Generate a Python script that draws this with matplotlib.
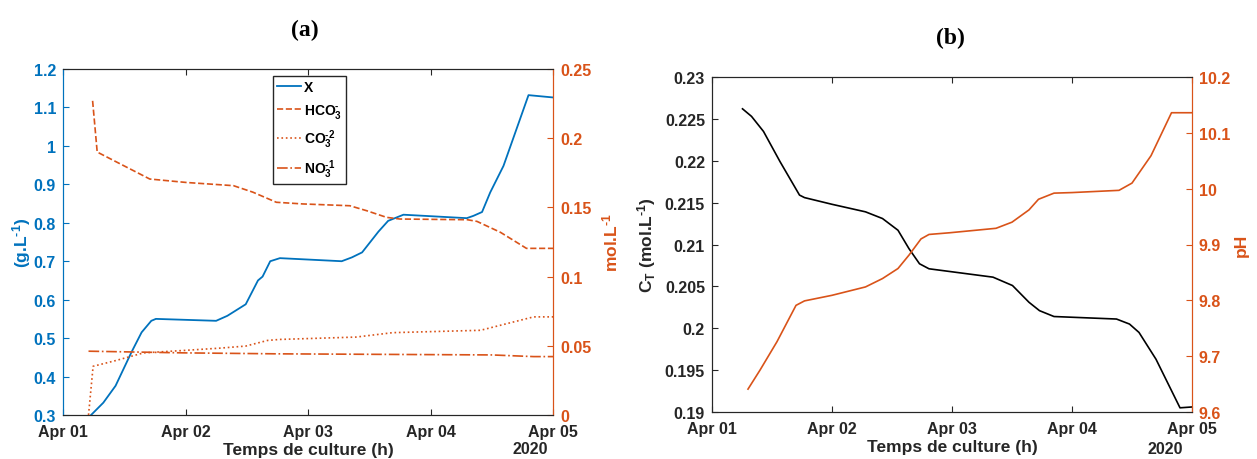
import numpy as np
import matplotlib
matplotlib.use('Agg')
import matplotlib.pyplot as plt
import matplotlib.dates as mdates
from matplotlib.ticker import FuncFormatter

# Fonts: bold sans everywhere, like the MATLAB export
plt.rcParams['font.family'] = ['Liberation Sans', 'DejaVu Sans']
plt.rcParams['font.weight'] = 'bold'
plt.rcParams['axes.labelweight'] = 'bold'
plt.rcParams['mathtext.fontset'] = 'custom'
plt.rcParams['mathtext.rm'] = 'Liberation Sans:bold'
plt.rcParams['mathtext.it'] = 'Liberation Sans:bold'
plt.rcParams['mathtext.bf'] = 'Liberation Sans:bold'
plt.rcParams['mathtext.default'] = 'bf'

blue = '#0072BD'
orange = '#D95319'
dark = '#262626'

# ---- data (hours since 2020-04-01 00:00) ----
# (a) biomass X (g/L)
x_hours = [5.5, 7.9, 10.3, 13.4, 15.4, 17.3, 18.2, 30.0, 32.2, 35.8, 38.2, 39.1,
           40.6, 42.5, 54.6, 56.6, 58.6, 61.8, 63.7, 66.7, 79.1, 80.4, 82.1, 83.7,
           86.3, 91.2, 96.0]
x_vals = [0.300, 0.332, 0.376, 0.463, 0.515, 0.545, 0.550, 0.545, 0.558, 0.588, 0.650, 0.660,
          0.700, 0.708, 0.700, 0.710, 0.723, 0.777, 0.805, 0.821, 0.812, 0.818, 0.828, 0.879,
          0.948, 1.132, 1.126]

# (a) HCO3- (mol/L)
hco3_hours = [5.8, 6.7, 10.6, 17.0, 24.2, 33.4, 37.2, 41.8, 47.0, 56.2, 59.5, 63.4,
              66.0, 79.2, 81.1, 85.7, 90.8, 96.0]
hco3_vals = [0.227, 0.190, 0.1826, 0.1705, 0.168, 0.1657, 0.161, 0.1537, 0.1525, 0.1512, 0.1476, 0.1428,
             0.1416, 0.1411, 0.1399, 0.132, 0.1204, 0.1204]

# (a) CO3-2 (mol/L)
co3_hours = [5.0, 5.9, 10.3, 15.8, 23.5, 30.7, 35.8, 40.1, 42.5, 57.4, 64.6, 81.8, 92.2, 96.0]
co3_vals = [0.0, 0.0352, 0.0393, 0.0449, 0.0466, 0.0483, 0.0498, 0.0539, 0.0546, 0.0563,
            0.0595, 0.0612, 0.0709, 0.0709]

# (a) NO3-1 (mol/L)
no3_hours = [5.0, 23.5, 41.8, 84.0, 92.2, 96.0]
no3_vals = [0.0461, 0.0449, 0.0442, 0.0434, 0.0422, 0.0422]

# (b) total carbon CT (mol/L)
ct_hours = [6.1, 7.9, 10.3, 13.6, 17.5, 18.5, 24.0, 30.7, 34.1, 37.2, 39.4, 41.5,
            43.4, 56.2, 60.1, 63.4, 65.5, 68.4, 80.9, 83.5, 85.4, 88.8, 93.6, 96.0]
ct_vals = [0.2262, 0.2253, 0.2235, 0.2199, 0.2159, 0.2156, 0.2148, 0.2139, 0.2131, 0.2117, 0.2095, 0.2077,
           0.2071, 0.2061, 0.2051, 0.2031, 0.2021, 0.2014, 0.2011, 0.2005, 0.1995, 0.1963, 0.1905, 0.1906]

# (b) pH
ph_hours = [7.2, 9.6, 13.0, 16.8, 18.5, 24.0, 30.7, 34.1, 37.2, 39.4, 41.8, 43.4,
            47.5, 56.8, 60.0, 63.4, 65.3, 68.4, 72.0, 81.4, 84.0, 87.8, 91.9, 96.0]
ph_vals = [9.641, 9.675, 9.726, 9.791, 9.799, 9.809, 9.824, 9.839, 9.857, 9.881, 9.910, 9.918,
           9.921, 9.929, 9.940, 9.962, 9.981, 9.992, 9.993, 9.997, 10.010, 10.059, 10.136, 10.136]

t0 = np.datetime64('2020-04-01T00:00')


def to_time(hours):
    return t0 + (np.array(hours) * 3600).astype('timedelta64[s]')


def fmt(v, pos):
    return '%g' % round(v, 4)


def style_xaxis(ax):
    ax.set_xlim(t0, t0 + np.timedelta64(96, 'h'))
    ax.xaxis.set_major_locator(mdates.DayLocator())
    ax.xaxis.set_major_formatter(mdates.DateFormatter('%b %d'))
    ax.tick_params(axis='x', direction='in', top=True, length=4, colors=dark,
                   labelsize=11.5, pad=6.5)
    ax.set_xlabel('Temps de culture (h)', fontsize=12.5, color=dark, labelpad=2)
    for s in ['top', 'bottom']:
        ax.spines[s].set_color(dark)


W, H = 1257, 460
fig = plt.figure(figsize=(W / 100, H / 100), dpi=100)

# ---------------- (a) ----------------
ax1 = fig.add_axes([63 / W, 1 - 416 / H, 490 / W, 346 / H])
ax1r = ax1.twinx()

l1, = ax1.plot(to_time(x_hours), x_vals, color=blue, lw=1.3, label='X')
l2, = ax1r.plot(to_time(hco3_hours), hco3_vals, color=orange, lw=1.2, ls='--',
                label=r'HCO$_3^{\text{-}}$')
l3, = ax1r.plot(to_time(co3_hours), co3_vals, color=orange, lw=1.2, ls=':',
                label=r'CO$_3^{\text{-2}}$')
l4, = ax1r.plot(to_time(no3_hours), no3_vals, color=orange, lw=1.2, ls='-.',
                label=r'NO$_3^{\text{-1}}$')

style_xaxis(ax1)
ax1.set_ylim(0.3, 1.2)
ax1.set_yticks(np.arange(0.3, 1.21, 0.1))
ax1.yaxis.set_major_formatter(FuncFormatter(fmt))
ax1.tick_params(axis='y', direction='in', length=4, colors=blue, labelsize=11.5, pad=5)
ax1.set_ylabel(r'(g.L$^{\text{-1}}$)', fontsize=12.5, color=blue)
ax1.yaxis.set_label_coords(-0.061, 0.5)

ax1r.set_ylim(0, 0.25)
ax1r.set_yticks(np.arange(0, 0.251, 0.05))
ax1r.yaxis.set_major_formatter(FuncFormatter(fmt))
ax1r.tick_params(axis='y', direction='in', length=4, colors=orange, labelsize=11.5, pad=5)
ax1r.set_ylabel(r'mol.L$^{\text{-1}}$', fontsize=12.5, color=orange)
ax1r.yaxis.set_label_coords(1.096, 0.5)
ax1r.spines['right'].set_color(orange)
ax1r.spines['left'].set_color(blue)
ax1.spines['left'].set_color(blue)
ax1.spines['right'].set_color(orange)
for s in ['top', 'bottom']:
    ax1r.spines[s].set_color(dark)

leg = ax1r.legend(handles=[l1, l2, l3, l4], loc='upper left', bbox_to_anchor=(0.4286, 0.98),
                  fontsize=10, handlelength=1.7, handletextpad=0.2, labelspacing=0.55,
                  borderpad=0.3, borderaxespad=0, fancybox=False, framealpha=1)
leg.get_frame().set_edgecolor(dark)
leg.get_frame().set_linewidth(1.0)

fig.text(548 / W, 1 - 450 / H, '2020', ha='right', va='center', fontsize=11.5, color=dark)
fig.text(305 / W, 1 - 30 / H, '(a)', ha='center', va='center', fontsize=17,
         family='Liberation Serif', weight='bold')

# ---------------- (b) ----------------
ax2 = fig.add_axes([712 / W, 1 - 413 / H, 480 / W, 335 / H])
ax2r = ax2.twinx()

ax2.plot(to_time(ct_hours), ct_vals, color='black', lw=1.2)
ax2r.plot(to_time(ph_hours), ph_vals, color=orange, lw=1.2)

style_xaxis(ax2)
ax2.set_ylim(0.19, 0.23)
ax2.set_yticks(np.arange(0.19, 0.2301, 0.005))
ax2.yaxis.set_major_formatter(FuncFormatter(fmt))
ax2.tick_params(axis='y', direction='in', length=4, colors=dark, labelsize=11.5, pad=5)
ax2.set_ylabel(r'C$_T$ (mol.L$^{\text{-1}}$)', fontsize=12.5, color=dark)
ax2.yaxis.set_label_coords(-0.1125, 0.5)

ax2r.set_ylim(9.6, 10.2)
ax2r.set_yticks(np.arange(9.6, 10.201, 0.1))
ax2r.yaxis.set_major_formatter(FuncFormatter(fmt))
ax2r.tick_params(axis='y', direction='in', length=4, colors=orange, labelsize=11.5, pad=5)
ax2r.set_ylabel('pH', fontsize=12.5, color=orange)
ax2r.yaxis.set_label_coords(1.0875, 0.5)
ax2r.spines['right'].set_color(orange)
ax2.spines['right'].set_color(orange)
ax2.spines['left'].set_color(dark)
ax2r.spines['left'].set_color(dark)
for s in ['top', 'bottom']:
    ax2r.spines[s].set_color(dark)

fig.text(1183 / W, 1 - 450 / H, '2020', ha='right', va='center', fontsize=11.5, color=dark)
fig.text(950 / W, 1 - 38 / H, '(b)', ha='center', va='center', fontsize=17,
         family='Liberation Serif', weight='bold')

fig.savefig('out.png', dpi=100)
